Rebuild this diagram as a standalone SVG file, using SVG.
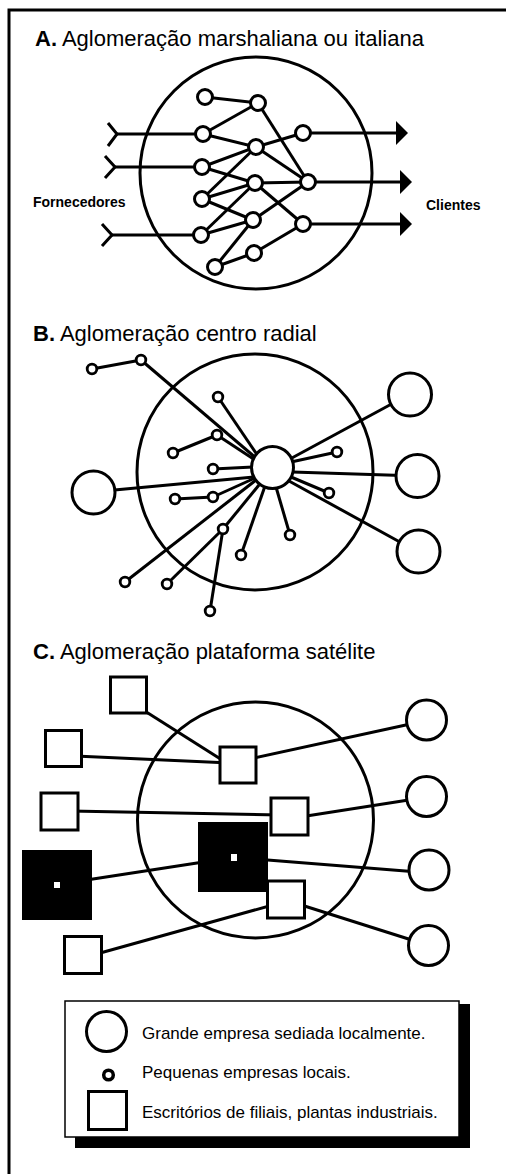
<svg xmlns="http://www.w3.org/2000/svg" width="506" height="1174" viewBox="0 0 506 1174">
<style>
.ln{stroke:#000;stroke-width:3;fill:none;stroke-linecap:butt}
.nd{fill:#fff;stroke:#000;stroke-width:3}
.sn{fill:#fff;stroke:#000;stroke-width:2.8}
.zone{fill:none;stroke:#000;stroke-width:3}
.t{font-family:"Liberation Sans",Arial,sans-serif;fill:#000}
.title{font-size:22px}
.lab{font-size:14px;font-weight:bold}
.leg{font-size:17px}
</style>
<defs>
<marker id="arr" markerUnits="userSpaceOnUse" markerWidth="13" markerHeight="26" refX="0" refY="12" orient="auto">
<path d="M0,0 L12,12 L0,24 Z" fill="#000"/>
</marker>
</defs>
<rect width="506" height="1174" fill="#fff"/>
<path id="frame" d="M9,1174 V10 H506" class="zone"/>

<!-- Section A -->
<g id="sectionA">
<text class="t title" x="35" y="46"><tspan font-weight="bold">A.</tspan> Aglomeração marshaliana ou italiana</text>
<circle id="zoneA" cx="256" cy="173" r="116" class="zone"/>
<text class="t lab" x="33" y="207">Fornecedores</text>
<text class="t lab" x="426" y="210">Clientes</text>
</g>
<g id="connectorsA">
<polyline class="ln" points="108,123 117,134 108,146"/>
<line class="ln" x1="117" y1="134" x2="203" y2="134"/>
<polyline class="ln" points="105,156 115,167 105,178"/>
<line class="ln" x1="115" y1="167" x2="202" y2="167"/>
<polyline class="ln" points="102,224 112,235 102,246"/>
<line class="ln" x1="112" y1="235" x2="201" y2="235"/>
<line class="ln" x1="303" y1="133" x2="396" y2="133" marker-end="url(#arr)"/>
<line class="ln" x1="308" y1="182" x2="400" y2="182" marker-end="url(#arr)"/>
<line class="ln" x1="303" y1="224" x2="400" y2="224" marker-end="url(#arr)"/>
<line class="ln" x1="205" y1="97" x2="258" y2="103"/>
<line class="ln" x1="258" y1="103" x2="203" y2="134"/>
<line class="ln" x1="258" y1="103" x2="308" y2="182"/>
<line class="ln" x1="203" y1="134" x2="256" y2="147"/>
<line class="ln" x1="256" y1="147" x2="303" y2="133"/>
<line class="ln" x1="256" y1="147" x2="308" y2="182"/>
<line class="ln" x1="256" y1="147" x2="202" y2="167"/>
<line class="ln" x1="256" y1="147" x2="202" y2="199"/>
<line class="ln" x1="202" y1="167" x2="255" y2="183"/>
<line class="ln" x1="202" y1="199" x2="255" y2="183"/>
<line class="ln" x1="202" y1="199" x2="253" y2="220"/>
<line class="ln" x1="201" y1="235" x2="255" y2="183"/>
<line class="ln" x1="201" y1="235" x2="253" y2="220"/>
<line class="ln" x1="215" y1="267" x2="253" y2="220"/>
<line class="ln" x1="215" y1="267" x2="254" y2="253"/>
<line class="ln" x1="254" y1="253" x2="303" y2="224"/>
<line class="ln" x1="253" y1="220" x2="308" y2="182"/>
<line class="ln" x1="255" y1="183" x2="308" y2="182"/>
<line class="ln" x1="255" y1="183" x2="303" y2="224"/>
</g>
<g id="nodesA">
<circle id="a1" cx="205" cy="97" r="7.5" class="nd"/>
<circle id="a2" cx="258" cy="103" r="7.5" class="nd"/>
<circle id="a3" cx="203" cy="134" r="7.5" class="nd"/>
<circle id="a4" cx="256" cy="147" r="7.5" class="nd"/>
<circle id="a5" cx="303" cy="133" r="7.5" class="nd"/>
<circle id="a6" cx="202" cy="167" r="7.5" class="nd"/>
<circle id="a7" cx="255" cy="183" r="7.5" class="nd"/>
<circle id="a8" cx="308" cy="182" r="7.5" class="nd"/>
<circle id="a9" cx="202" cy="199" r="7.5" class="nd"/>
<circle id="a10" cx="253" cy="220" r="7.5" class="nd"/>
<circle id="a11" cx="303" cy="224" r="7.5" class="nd"/>
<circle id="a12" cx="201" cy="235" r="7.5" class="nd"/>
<circle id="a13" cx="254" cy="253" r="7.5" class="nd"/>
<circle id="a14" cx="215" cy="267" r="7.5" class="nd"/>
</g>

<!-- Section B -->
<g id="sectionB">
<text class="t title" x="33" y="341"><tspan font-weight="bold">B.</tspan> Aglomeração centro radial</text>
<circle id="zoneB" cx="255" cy="472" r="118" class="zone"/>
</g>
<g id="connectorsB">
<line class="ln" x1="92" y1="369" x2="141" y2="360"/>
<line class="ln" x1="141" y1="360" x2="256" y2="458"/>
<line class="ln" x1="218" y1="397" x2="258" y2="456"/>
<line class="ln" x1="173" y1="453" x2="217" y2="435"/>
<line class="ln" x1="217" y1="435" x2="255" y2="460"/>
<line class="ln" x1="213" y1="469" x2="253" y2="467"/>
<line class="ln" x1="93" y1="492" x2="254" y2="477"/>
<line class="ln" x1="175" y1="499" x2="213" y2="497"/>
<line class="ln" x1="213" y1="497" x2="255" y2="478"/>
<line class="ln" x1="125" y1="582" x2="256" y2="480"/>
<line class="ln" x1="167" y1="584" x2="223" y2="529"/>
<line class="ln" x1="210" y1="611" x2="223" y2="529"/>
<line class="ln" x1="223" y1="529" x2="259" y2="485"/>
<line class="ln" x1="241" y1="555" x2="265" y2="486"/>
<line class="ln" x1="290" y1="535" x2="276" y2="487"/>
<line class="ln" x1="418" y1="552" x2="289" y2="481"/>
<line class="ln" x1="329" y1="493" x2="291" y2="477"/>
<line class="ln" x1="418" y1="476" x2="292" y2="472"/>
<line class="ln" x1="337" y1="452" x2="291" y2="462"/>
<line class="ln" x1="410" y1="394" x2="290" y2="459"/>
</g>
<g id="nodesB">
<circle id="hub" cx="272.5" cy="467.5" r="21" class="nd"/>
<circle id="bTR" cx="410" cy="394.5" r="21.5" class="nd"/>
<circle id="bL" cx="93.5" cy="492.5" r="21.5" class="nd"/>
<circle id="bRM" cx="417.5" cy="476" r="21.5" class="nd"/>
<circle id="bRB" cx="418.5" cy="551.5" r="21.5" class="nd"/>
<circle id="b1" cx="92" cy="369" r="4.8" class="sn"/>
<circle id="b2" cx="141" cy="360" r="4.8" class="sn"/>
<circle id="b3" cx="218" cy="397" r="4.8" class="sn"/>
<circle id="b4" cx="217" cy="435" r="4.8" class="sn"/>
<circle id="b5" cx="173" cy="453" r="4.8" class="sn"/>
<circle id="b6" cx="337" cy="452" r="4.8" class="sn"/>
<circle id="b7" cx="213" cy="469" r="4.8" class="sn"/>
<circle id="b8" cx="175" cy="499" r="4.8" class="sn"/>
<circle id="b9" cx="213" cy="497" r="4.8" class="sn"/>
<circle id="b10" cx="329" cy="493" r="4.8" class="sn"/>
<circle id="b11" cx="223" cy="529" r="4.8" class="sn"/>
<circle id="b12" cx="290" cy="535" r="4.8" class="sn"/>
<circle id="b13" cx="241" cy="555" r="4.8" class="sn"/>
<circle id="b14" cx="125" cy="582" r="4.8" class="sn"/>
<circle id="b15" cx="167" cy="584" r="4.8" class="sn"/>
<circle id="b16" cx="210" cy="611" r="4.8" class="sn"/>
</g>

<!-- Section C -->
<g id="sectionC">
<text class="t title" x="33" y="659"><tspan font-weight="bold">C.</tspan> Aglomeração plataforma satélite</text>
<circle id="zoneC" cx="255.5" cy="820" r="118" class="zone"/>
</g>
<g id="connectorsC">
<line class="ln" x1="140" y1="708" x2="230" y2="765"/>
<line class="ln" x1="75" y1="756" x2="230" y2="763"/>
<line class="ln" x1="245" y1="760" x2="415" y2="723"/>
<line class="ln" x1="70" y1="811" x2="280" y2="815"/>
<line class="ln" x1="300" y1="817" x2="415" y2="799"/>
<line class="ln" x1="80" y1="881" x2="210" y2="861"/>
<line class="ln" x1="255" y1="859" x2="418" y2="872"/>
<line class="ln" x1="93" y1="955" x2="280" y2="903"/>
<line class="ln" x1="295" y1="903" x2="418" y2="942"/>
</g>
<g id="nodesC">
<rect id="q1" x="110.5" y="677" width="36" height="36" class="nd"/>
<rect id="q2" x="45.5" y="730.5" width="36" height="36" class="nd"/>
<rect id="q3" x="220" y="747" width="36" height="36" class="nd"/>
<rect id="q4" x="41" y="793" width="37" height="37" class="nd"/>
<rect id="q5" x="271" y="798" width="37" height="37" class="nd"/>
<rect id="q6" x="267.5" y="881" width="37" height="37" class="nd"/>
<rect id="q7" x="64.5" y="936.5" width="37" height="37" class="nd"/>
<g id="blackL"><rect x="22" y="850" width="70" height="70" fill="#000"/><rect x="54" y="882" width="6" height="6" fill="#fff"/></g>
<g id="blackC"><rect x="198" y="822" width="70" height="70" fill="#000"/><rect x="231" y="854" width="6" height="7" fill="#fff"/></g>
<circle id="c1" cx="426.5" cy="720" r="20" class="nd"/>
<circle id="c2" cx="426.5" cy="796.5" r="20" class="nd"/>
<circle id="c3" cx="429" cy="870" r="20" class="nd"/>
<circle id="c4" cx="428.5" cy="945.5" r="20" class="nd"/>
</g>

<!-- Legend -->
<g id="legend">
<rect x="75" y="1004" width="395" height="144" fill="#000"/>
<rect x="65" y="1001" width="394" height="136" fill="#fff" stroke="#000" stroke-width="1.5"/>
<circle cx="106.5" cy="1031.5" r="20" class="nd"/>
<circle cx="108.5" cy="1075" r="4.8" fill="#fff" stroke="#000" stroke-width="3.5"/>
<rect x="88.5" y="1091.5" width="38" height="38" class="nd"/>
<text class="t leg" x="142" y="1039">Grande empresa sediada localmente.</text>
<text class="t leg" x="142" y="1078">Pequenas empresas locais.</text>
<text class="t leg" x="142" y="1118">Escritórios de filiais, plantas industriais.</text>
</g>
</svg>
